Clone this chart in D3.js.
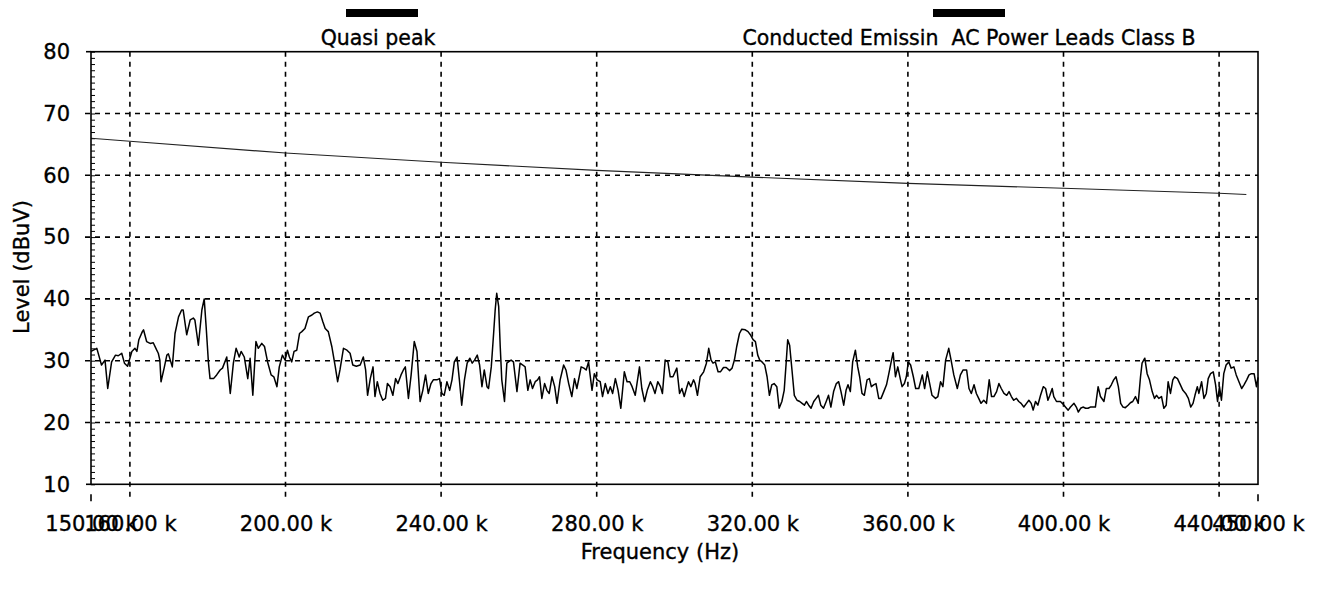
<!DOCTYPE html>
<html>
<head>
<meta charset="utf-8">
<script src="https://cdn.jsdelivr.net/npm/d3@7"></script>
<style>
  html, body { margin: 0; padding: 0; background: #fff; }
  svg { display: block; }
  text { font-family: "DejaVu Sans", Verdana, sans-serif; fill: #000; stroke: #000; stroke-width: 0.35px; white-space: pre; }
</style>
</head>
<body>
<svg id="chart" width="1322" height="589"></svg>
<script>
// ---------- data ----------
const xTicks = [150, 160, 200, 240, 280, 320, 360, 400, 440, 450];
const xTickLabels = ["150.00 k", "160.00 k", "200.00 k", "240.00 k", "280.00 k", "320.00 k", "360.00 k", "400.00 k", "440.00 k", "450.00 k"];
const yTicks = [10, 20, 30, 40, 50, 60, 70, 80];
const xGrid = [160, 200, 240, 280, 320, 360, 400, 440];
const yGrid = [20, 30, 40, 50, 60, 70];

// Limit line (Conducted Emissin AC Power Leads Class B) kHz / dBuV
const limitFreq = [150, 160, 200, 240, 280, 320, 360, 400, 440, 447];
const limitLevel = [66.0, 65.5, 63.6, 62.1, 60.8, 59.7, 58.7, 57.9, 57.1, 56.9];

// Quasi peak trace, kHz
const traceFreq = [
150.0,151.5,152.7,153.6,154.3,155.3,156.3,157.0,157.9,158.6,159.4,160.5,161.3,161.8,162.3,163.2,163.5,164.3,165.2,166.0,
166.9,167.3,167.7,168.0,168.8,169.5,169.9,170.9,171.6,172.5,173.3,173.7,174.6,175.5,176.3,176.7,177.6,178.5,179.1,179.6,
180.2,180.6,181.5,182.3,183.2,183.8,184.9,185.8,186.6,187.3,188.1,188.6,189.4,190.3,190.9,191.6,192.4,193.0,193.9,194.6,
195.4,196.3,197.0,197.8,198.4,199.2,199.9,200.5,201.0,201.6,202.2,202.9,203.6,204.2,205.0,205.9,206.8,207.4,208.2,208.9,
209.6,210.2,211.0,211.9,212.8,213.4,214.0,214.9,215.8,216.6,217.3,218.2,219.2,220.0,220.6,221.1,221.8,222.5,223.0,223.6,
224.3,225.0,225.7,226.2,226.9,227.6,228.3,228.9,229.7,230.3,230.8,231.6,232.3,233.1,233.8,234.6,235.3,236.0,236.7,237.4,
238.0,238.9,239.6,240.2,240.8,241.5,242.2,242.8,243.4,244.1,244.7,245.3,246.0,246.7,247.4,248.0,248.6,249.3,249.9,250.5,
251.1,251.8,252.2,252.9,253.5,253.9,254.3,254.8,255.2,255.6,256.3,256.9,257.3,258.0,258.6,259.5,260.3,261.0,261.6,262.3,
262.9,263.5,264.2,264.8,265.3,265.9,266.6,267.2,267.8,268.5,269.2,269.8,270.6,271.5,272.1,272.8,273.6,274.3,274.9,275.5,
276.0,276.7,277.3,277.9,278.3,278.8,279.4,280.1,280.9,281.5,282.2,282.9,283.5,284.1,284.8,285.5,286.2,287.1,287.8,288.5,
289.1,289.9,291.0,291.6,292.3,293.0,293.8,294.4,295.0,295.7,296.4,296.9,297.6,298.3,298.9,299.6,300.6,301.3,301.9,302.5,
303.2,303.6,304.2,304.9,305.3,305.9,306.6,307.5,308.2,308.8,309.4,309.9,310.5,311.2,311.8,312.6,313.3,314.2,314.8,315.4,
316.0,316.7,317.3,318.2,318.9,319.5,320.2,320.8,321.4,321.9,322.5,323.2,323.8,324.4,325.0,325.6,326.3,326.9,327.6,328.2,
328.7,329.1,329.6,330.2,330.8,331.5,332.2,332.8,333.4,333.9,334.5,335.1,335.8,336.4,337.0,337.6,338.3,339.0,339.6,340.2,
340.9,341.6,342.2,342.8,343.5,344.1,344.6,345.2,345.8,346.5,347.1,347.6,348.2,348.8,349.5,350.1,350.6,351.2,351.8,352.5,
353.1,353.8,354.5,355.1,355.7,356.2,356.8,357.4,358.1,358.5,359.1,359.6,360.1,360.7,361.4,362.0,362.8,363.7,364.3,365.0,
365.6,366.2,367.1,367.7,368.4,369.0,369.7,370.5,371.1,371.8,372.7,373.5,374.2,375.1,375.7,376.3,377.0,377.6,378.2,378.8,
379.5,380.2,380.9,381.5,382.1,382.8,383.4,384.0,384.7,385.4,386.0,386.6,387.2,387.9,388.5,389.1,389.8,390.5,391.1,391.7,
392.2,392.8,393.4,394.1,394.8,395.4,396.0,396.5,397.1,397.5,398.2,399.2,399.7,400.5,401.2,401.8,402.7,403.3,403.8,404.4,
405.0,405.7,406.3,406.9,408.2,408.9,409.5,410.4,411.0,411.7,412.3,412.9,413.5,414.1,414.7,415.3,415.9,416.6,417.2,417.8,
418.5,419.2,419.8,420.2,420.9,421.5,422.1,422.8,423.4,423.9,424.5,425.2,425.8,426.4,426.9,427.5,428.1,428.6,429.3,429.9,
430.7,431.4,432.1,432.7,433.3,433.8,434.4,434.8,435.5,436.1,436.7,437.2,437.8,438.5,439.1,439.6,440.1,440.6,441.2,441.8,
442.5,443.1,443.8,444.4,445.1,445.8,446.4,447.1,447.7,448.3,449.0,449.6,450.0
];
// Quasi peak trace, dBuV
const traceLevel = [
31.5,32.0,29.3,30.1,25.5,29.8,30.9,30.8,31.2,29.6,29.1,31.5,32.0,31.5,33.4,34.7,35.0,33.1,32.8,32.9,
31.7,31.2,30.1,26.6,28.8,30.9,31.1,29.0,34.4,37.1,38.2,38.2,34.2,36.6,36.9,36.6,32.5,38.2,40.0,35.5,
29.6,27.1,27.1,27.7,28.5,28.8,30.6,24.7,29.6,32.0,30.6,31.5,30.6,27.1,30.4,24.4,33.1,32.0,32.8,32.3,
29.8,27.7,27.4,25.8,29.0,30.9,30.1,31.7,30.6,29.8,31.5,31.7,34.4,34.7,35.2,37.1,37.4,37.7,37.9,37.7,
36.3,35.2,34.7,32.3,29.0,26.6,28.5,32.0,31.7,31.2,29.3,29.1,29.3,30.6,28.5,24.4,27.1,29.0,24.2,26.6,
24.7,23.6,23.9,26.3,25.8,24.4,27.1,26.3,27.7,28.5,29.0,23.9,27.7,33.1,31.5,23.4,25.2,27.7,24.7,26.3,
26.9,26.9,27.1,24.7,24.4,26.6,25.2,26.9,29.8,30.6,26.9,22.8,26.9,29.6,30.4,29.6,30.1,30.9,29.3,25.8,
28.5,25.8,25.5,29.0,34.4,38.2,40.9,38.8,32.3,26.9,23.4,29.6,29.8,30.1,29.8,25.0,29.6,29.3,29.0,25.2,
26.9,25.5,26.6,26.9,27.4,23.9,26.3,25.2,24.7,27.4,25.8,23.1,26.9,29.3,28.5,26.3,24.2,27.1,25.5,27.4,
29.0,28.8,28.5,29.8,27.7,25.2,27.9,26.9,26.6,24.2,26.3,24.7,25.8,24.7,27.1,25.2,22.3,28.2,26.6,26.6,
25.8,24.4,29.0,25.5,23.4,25.2,26.6,25.8,24.7,26.6,25.8,24.7,30.1,29.8,27.4,27.4,28.8,24.7,25.5,24.2,
25.8,26.6,25.8,26.9,26.3,24.4,27.4,28.2,29.6,32.0,30.1,29.6,29.8,28.2,28.2,28.9,28.9,28.4,28.8,30.1,
32.3,34.4,35.1,35.0,34.7,34.2,33.4,33.1,30.9,30.1,29.8,29.3,27.4,24.4,26.1,26.3,25.8,22.3,23.4,25.2,
29.6,33.4,32.5,28.5,24.4,23.6,23.4,23.1,22.8,23.4,22.8,22.3,23.4,23.9,24.4,22.8,22.3,23.4,24.4,22.5,
25.0,26.3,26.6,25.0,22.8,25.2,26.1,25.0,29.8,31.7,29.0,27.4,24.7,24.4,26.9,27.1,25.8,26.1,26.3,23.9,
23.9,25.0,26.1,27.9,29.8,31.3,27.4,29.0,26.9,25.8,26.3,27.4,29.8,29.3,27.4,25.5,25.5,27.7,25.5,28.2,
26.3,24.4,23.9,24.2,26.6,25.8,30.1,32.0,30.1,27.7,25.5,27.7,28.5,28.5,25.5,24.7,26.1,24.7,23.9,23.1,
23.6,23.1,26.9,24.2,24.2,25.0,26.3,25.5,24.7,24.4,25.0,24.2,23.6,23.9,23.4,23.1,22.5,23.1,23.6,23.1,
22.0,23.4,22.8,24.4,25.8,25.5,23.6,24.4,25.5,24.2,23.4,23.4,23.1,22.5,22.0,22.5,23.1,22.5,21.7,22.3,
22.5,22.3,22.3,22.5,22.5,25.8,24.2,23.4,25.5,25.5,26.1,26.9,27.4,25.8,23.1,22.5,22.4,22.8,23.2,23.4,
24.2,23.1,27.4,29.6,30.4,27.9,26.9,25.0,23.9,24.4,23.9,24.2,22.3,22.8,26.6,24.7,26.9,27.4,27.1,26.3,
25.2,24.7,23.9,22.5,23.1,24.4,25.8,24.7,26.6,23.9,24.7,27.1,27.9,28.2,26.1,23.4,25.8,23.6,27.9,29.3,
29.8,28.8,29.0,27.7,26.6,25.5,26.1,26.9,27.7,27.9,27.9,25.8,27.3
];

const legendLabels = ["Quasi peak", "Conducted Emissin  AC Power Leads Class B"];
const legendCenters = [382, 969];

// ---------- layout ----------
const svg = d3.select("#chart");
const mLeft = 91, mRight = 1258, mTop = 51.7, mBottom = 484.3;
const x = d3.scaleLinear().domain([150, 450]).range([mLeft, mRight]);
const y = d3.scaleLinear().domain([10, 80]).range([mBottom, mTop]);
const FONT = 21;

// horizontal gridlines (dashed, extend slightly left of axis)
svg.append("g").selectAll("line").data(yGrid).join("line")
  .attr("x1", mLeft - 6).attr("x2", mRight)
  .attr("y1", d => y(d)).attr("y2", d => y(d))
  .attr("stroke", "#000").attr("stroke-width", 1.6)
  .attr("stroke-dasharray", "5,5");

// vertical gridlines (dashed, extend below axis)
svg.append("g").selectAll("line").data(xGrid).join("line")
  .attr("x1", d => x(d)).attr("x2", d => x(d))
  .attr("y1", mTop).attr("y2", mBottom + 17)
  .attr("stroke", "#000").attr("stroke-width", 1.6)
  .attr("stroke-dasharray", "5,5");

// below-axis dashes at 150 and 450
svg.append("g").selectAll("line").data([150, 450]).join("line")
  .attr("x1", d => x(d)).attr("x2", d => x(d))
  .attr("y1", mBottom + 10).attr("y2", mBottom + 17)
  .attr("stroke", "#000").attr("stroke-width", 1.6);

// y major outside ticks at 10 / 80
svg.append("g").selectAll("line").data([10, 80]).join("line")
  .attr("x1", mLeft - 5).attr("x2", mLeft)
  .attr("y1", d => y(d)).attr("y2", d => y(d))
  .attr("stroke", "#000").attr("stroke-width", 1.6);

// y minor ticks inward (every 1 dB)
const minorAxis = d3.axisRight(y).tickValues(d3.range(10, 81, 1)).tickSize(4).tickFormat("");
const gMinor = svg.append("g").attr("transform", `translate(${mLeft},0)`).call(minorAxis);
gMinor.select(".domain").remove();
gMinor.selectAll("line").attr("stroke", "#000").attr("stroke-width", 1);

// y labels
const yAxis = d3.axisLeft(y).tickValues(yTicks).tickSize(0).tickPadding(21).tickFormat(d3.format("d"));
const gY = svg.append("g").attr("transform", `translate(${mLeft},0)`).call(yAxis);
gY.select(".domain").remove();
gY.selectAll("text").attr("font-size", FONT).attr("font-family", "DejaVu Sans");

// x labels
const xAxis = d3.axisBottom(x).tickValues(xTicks).tickSize(0).tickPadding(32)
  .tickFormat((d, i) => xTickLabels[i]);
const gX = svg.append("g").attr("transform", `translate(0,${mBottom})`).call(xAxis);
gX.select(".domain").remove();
gX.selectAll("text").attr("font-size", FONT).attr("font-family", "DejaVu Sans");

// limit line
const limitData = limitFreq.map((f, i) => [f, limitLevel[i]]);
svg.append("path").datum(limitData)
  .attr("fill", "none").attr("stroke", "#222").attr("stroke-width", 1.1)
  .attr("d", d3.line().x(d => x(d[0])).y(d => y(d[1])));

// trace
const traceData = traceFreq.map((f, i) => [f, traceLevel[i]]);
svg.append("path").datum(traceData)
  .attr("fill", "none").attr("stroke", "#000").attr("stroke-width", 1.5)
  .attr("stroke-linejoin", "round")
  .attr("d", d3.line().x(d => x(d[0])).y(d => y(d[1])));

// frame
svg.append("rect")
  .attr("x", mLeft).attr("y", mTop).attr("width", mRight - mLeft).attr("height", mBottom - mTop)
  .attr("fill", "none").attr("stroke", "#000").attr("stroke-width", 1.6);

// legend
const lg = svg.append("g").selectAll("g").data(legendLabels).join("g");
lg.append("rect")
  .attr("x", (d, i) => legendCenters[i] - 36).attr("y", 9)
  .attr("width", 72).attr("height", 8).attr("fill", "#000");
lg.append("text")
  .attr("x", (d, i) => legendCenters[i] - (i === 0 ? 4 : 0)).attr("y", 45)
  .attr("text-anchor", "middle").attr("font-size", 20.5)
  .attr("xml:space", "preserve")
  .text(d => d);

// axis titles
svg.append("text")
  .attr("x", 660).attr("y", 559).attr("text-anchor", "middle")
  .attr("font-size", FONT).text("Frequency (Hz)");
svg.append("text")
  .attr("transform", "translate(29,267) rotate(-90)")
  .attr("text-anchor", "middle").attr("font-size", FONT).text("Level (dBuV)");
</script>
</body>
</html>
